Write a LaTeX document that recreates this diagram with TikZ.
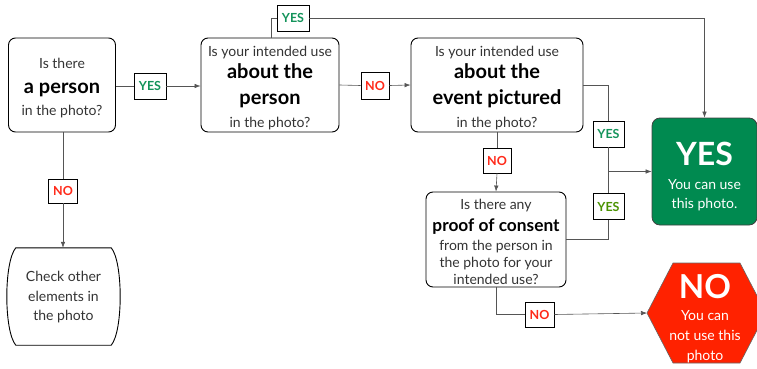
\documentclass[tikz,border=0pt]{standalone}
\usepackage{fontspec}
\setmainfont{Lato}
\usetikzlibrary{arrows.meta}
\definecolor{ygreen}{HTML}{008A50}
\definecolor{lblgreen}{HTML}{13935A}
\definecolor{lblolive}{HTML}{4A9300}
\definecolor{nored}{HTML}{FF2200}
\definecolor{lblred}{HTML}{FF2A1A}
\definecolor{txtgray}{HTML}{333333}
\definecolor{linegray}{HTML}{555555}
\newcommand\bt[1]{{\fontsize{20}{17}\selectfont\bfseries\color{black}#1}}
\newcommand\bts[1]{{\fontsize{17.3}{17}\selectfont\bfseries\color{black}#1}}
\newcommand\nols{\lineskiplimit -50pt\relax}
\newcommand\dn[1]{\rule{0pt}{#1}}
\begin{document}
\begin{tikzpicture}[x=1pt,y=-1pt,
  qbox/.style={draw, line width=0.9pt, rounded corners=7pt, align=center, inner sep=0pt,
    text=txtgray, font=\fontsize{14}{17}\selectfont\nols},
  lbl/.style={draw, line width=0.8pt, fill=white, inner sep=0pt, minimum width=30pt,
    minimum height=25pt, font=\fontsize{12.5}{12}\selectfont\bfseries},
  conn/.style={draw=linegray, line width=0.6pt},
  arr/.style={conn, -{Latex[length=6pt,width=4.5pt]}}]
\useasboundingbox (0,0) rectangle (757,369);

% question boxes
\node[qbox, minimum width=107pt, minimum height=94pt] (n1) at (62,85)
  {\dn{16.5pt}Is there\\[8pt]\bt{a person}\\[5pt]in the photo?};
\node[qbox, minimum width=138pt, minimum height=94pt] (n2) at (270,85)
  {\dn{15.5pt}Is your intended use\\[5pt]\bt{about the}\\[9pt]\bt{person}\\[6pt]in the photo?};
\node[qbox, minimum width=172pt, minimum height=94pt] (n3) at (497,85)
  {\dn{15.5pt}Is your intended use\\[5pt]\bt{about the}\\[9pt]\bt{event pictured}\\[6pt]in the photo?};
\node[qbox, minimum width=140pt, minimum height=95pt] (n4) at (496,239.5)
  {\dn{15.5pt}Is there any\\[5pt]\bts{proof of consent}\\[2pt]from the person in\\the photo for your\\intended use?};

% check other elements
\node[align=center, inner sep=0pt, minimum width=113pt, minimum height=97pt, text=txtgray,
  font=\fontsize{14}{17}\selectfont\nols] (n5) at (63.5,296.5)
  {\dn{12pt}Check other\\[3pt]elements in\\[2pt]the photo};
\draw[line width=0.9pt] ([xshift=9pt]n5.north west) -- ([xshift=-9pt]n5.north east)
  .. controls +(12,14) and +(12,-14) .. ([xshift=-9pt]n5.south east)
  -- ([xshift=9pt]n5.south west)
  .. controls +(-12,-14) and +(-12,14) .. cycle;

% YES result
\node[draw=black!75, line width=0.8pt, fill=ygreen, rounded corners=8pt, minimum width=105pt,
  minimum height=107pt, align=center, text=white, inner sep=0pt,
  font=\fontsize{14}{17}\selectfont\nols] (nyes) at (704.5,171.5)
  {\dn{33pt}{\fontsize{32}{17}\selectfont\bfseries YES}\\[7pt]You can use\\[2pt]this photo.};

% NO result
\fill[nored, draw=black!60, line width=0.6pt] (647,313) -- (673,263) -- (740,263) -- (766,313)
  -- (740,363) -- (673,363) -- cycle;
\coordinate (nol) at (647,313);
\node[align=center, text=white, inner sep=0pt,
  font=\fontsize{14}{17}\selectfont\nols] (nno) at (705,313)
  {\dn{36pt}{\fontsize{33}{17}\selectfont\bfseries NO}\\[5pt]You can\\[3pt]not use this\\[3pt]photo};

% labels
\node[lbl, text=lblgreen, minimum width=32pt, minimum height=26pt] (l1) at (150,86) {YES};
\node[lbl, text=lblgreen, minimum width=32pt, minimum height=26pt] (l2) at (293,18) {YES};
\node[lbl, text=lblred, minimum width=28pt, minimum height=27pt] (l3) at (375,85.5) {NO};
\node[lbl, text=lblgreen, minimum width=31pt, minimum height=26pt] (l4) at (608.5,134) {YES};
\node[lbl, text=lblolive, minimum width=31pt, minimum height=26pt] (l5) at (608.5,206.5) {YES};
\node[lbl, text=lblred, minimum width=28pt, minimum height=25pt] (l6) at (497,160.5) {NO};
\node[lbl, text=lblred, minimum width=29pt, minimum height=25pt] (l7) at (539.5,314.5) {NO};
\node[lbl, text=lblred, minimum width=29pt, minimum height=24pt] (l8) at (63,191) {NO};

% connectors
\draw[conn] (n1.east |- l1) -- (l1.west);
\draw[arr] (l1.east) -- (n2.west |- l1);
\draw[conn] (n2.north -| 271,0) |- (l2.west);
\draw[arr] (l2.east) -| (nyes.north);
\draw[conn] (n2.east) -- (l3.west);
\draw[arr] (l3.east) -- (n3.west);
\draw[conn] (n3.east) -| (l4.north);
\draw[conn] (l4.south) -- (l5.north);
\coordinate (j) at (l4.south |- nyes.west);
\draw[arr] (j) -- (nyes.west);
\draw[conn] (l5.south) |- (n4.east);
\draw[conn] (n3.south) -- (l6.north);
\draw[arr] (l6.south) -- (n4.north);
\draw[conn] (n4.south) |- (l7.west);
\draw[arr] (l7.east) -- (nol);
\draw[conn] (n1.south -| l8) -- (l8.north);
\draw[arr] (l8.south) -- (n5.north -| l8);
\end{tikzpicture}
\end{document}
